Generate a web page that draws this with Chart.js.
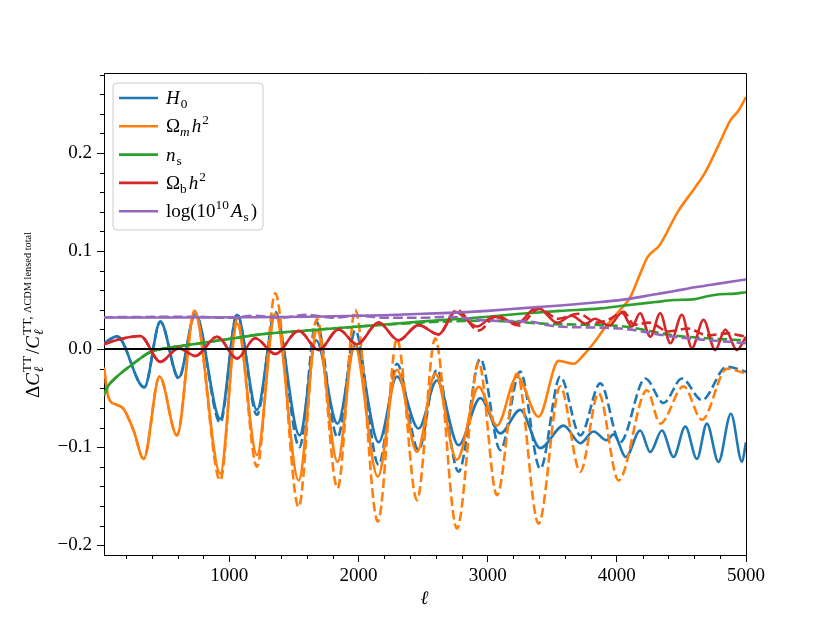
<!DOCTYPE html>
<html>
<head>
<meta charset="utf-8">
<script src="https://cdn.jsdelivr.net/npm/chart.js@4.4.1/dist/chart.umd.min.js"></script>
<style>
html,body{margin:0;padding:0;background:#fff;}
#wrap{width:830px;height:623px;}
</style>
</head>
<body>
<div id="wrap"><canvas id="c" width="830" height="623"></canvas></div>
<script>
// ---------------- data ----------------
const xMin = 30, xMax = 5000;
const yMin = -0.21, yMax = 0.2816;
const xTicks = [1000, 2000, 3000, 4000, 5000];
const yTicks = [-0.2, -0.1, 0.0, 0.1, 0.2];
const xMinorTicks = [200,400,600,800,1200,1400,1600,1800,2200,2400,2600,2800,3200,3400,3600,3800,4200,4400,4600,4800];
const yMinorTicks = [-0.18,-0.16,-0.14,-0.12,-0.08,-0.06,-0.04,-0.02,0.02,0.04,0.06,0.08,0.12,0.14,0.16,0.18,0.22,0.24,0.26,0.28];

const h0Solid = [[30,0.006],[131,0.013],[342,-0.039],[466,0.028],[608,-0.029],[737,0.036],[930,-0.071],[1060,0.035],[1214,-0.062],[1356,0.036],[1544,-0.088],[1673,0.009],[1838,-0.076],[1975,0.004],[2156,-0.095],[2298,-0.028],[2465,-0.081],[2607,-0.032],[2775,-0.098],[2943,-0.050],[3098,-0.086],[3252,-0.062],[3407,-0.101],[3588,-0.078],[3717,-0.096],[3820,-0.084],[3920,-0.093],[3975,-0.087],[4070,-0.110],[4181,-0.083],[4259,-0.105],[4349,-0.083],[4439,-0.110],[4530,-0.079],[4620,-0.112],[4697,-0.076],[4787,-0.115],[4883,-0.066],[4969,-0.115],[5000,-0.095]];
const h0Dashed = [[30,0.006],[131,0.013],[342,-0.039],[466,0.028],[608,-0.030],[737,0.036],[930,-0.075],[1060,0.036],[1214,-0.067],[1356,0.038],[1544,-0.100],[1673,0.028],[1838,-0.090],[1975,0.019],[2156,-0.118],[2298,-0.015],[2465,-0.103],[2607,-0.021],[2775,-0.125],[2943,-0.010],[3098,-0.103],[3252,-0.023],[3407,-0.122],[3562,-0.028],[3717,-0.088],[3872,-0.035],[4026,-0.095],[4220,-0.030],[4362,-0.055],[4504,-0.030],[4659,-0.052],[4852,-0.018],[5000,-0.023]];
const omSolid = [[30,-0.019],[66,-0.050],[131,-0.057],[182,-0.061],[259,-0.083],[337,-0.112],[460,-0.028],[595,-0.088],[731,0.038],[930,-0.127],[1060,0.026],[1214,-0.108],[1356,0.036],[1537,-0.134],[1679,0.019],[1838,-0.115],[1968,0.005],[2150,-0.130],[2298,-0.021],[2453,-0.105],[2594,-0.025],[2762,-0.113],[2930,-0.0385],[3072,-0.078],[3227,-0.028],[3394,-0.069],[3549,-0.012],[3665,-0.015],[3743,-0.006],[3820,0.006],[3923,0.0245],[4026,0.040],[4100,0.052],[4181,0.077],[4239,0.094],[4331,0.106],[4474,0.1405],[4605,0.1646],[4683,0.180],[4786,0.2075],[4878,0.233],[4944,0.2436],[5000,0.257]];
const omDashed = [[30,-0.019],[66,-0.050],[131,-0.057],[182,-0.061],[259,-0.083],[337,-0.112],[460,-0.028],[595,-0.088],[731,0.039],[930,-0.134],[1060,0.030],[1214,-0.120],[1356,0.057],[1537,-0.161],[1679,0.031],[1838,-0.142],[1975,0.040],[2150,-0.176],[2298,0.010],[2453,-0.154],[2594,0.011],[2762,-0.183],[2930,-0.013],[3072,-0.149],[3227,-0.025],[3394,-0.178],[3562,-0.038],[3717,-0.125],[3859,-0.045],[4013,-0.134],[4233,-0.042],[4336,-0.076],[4517,-0.038],[4659,-0.072],[4852,-0.020],[5000,-0.025]];
const nsSolid = [[30,-0.047],[60,-0.038],[131,-0.028],[259,-0.0146],[389,-0.003],[518,0.001],[776,0.006],[1034,0.011],[1240,0.015],[1600,0.019],[2000,0.023],[2478,0.028],[2800,0.031],[3000,0.033],[3252,0.036],[3562,0.039],[3872,0.0415],[4026,0.044],[4300,0.048],[4439,0.050],[4605,0.051],[4700,0.054],[4800,0.056],[4880,0.0563],[5000,0.058]];
const nsDashed = [[30,-0.047],[60,-0.038],[131,-0.028],[259,-0.0146],[389,-0.003],[518,0.001],[776,0.006],[1034,0.011],[1240,0.015],[1600,0.019],[2000,0.023],[2478,0.027],[2994,0.029],[3508,0.0255],[4026,0.0235],[4439,0.014],[4700,0.011],[5000,0.009]];
const obSolid = [[30,0.005],[150,0.010],[311,0.0133],[466,-0.013],[608,0.001],[737,-0.007],[905,0.0126],[1060,-0.0095],[1201,0.011],[1356,-0.005],[1537,0.0187],[1692,-0.001],[1846,0.020],[1988,0.005],[2156,0.027],[2310,0.009],[2465,0.0245],[2620,0.015],[2749,0.038],[2917,0.023],[3046,0.033],[3227,0.026],[3382,0.043],[3540,0.027],[3650,0.034],[3760,0.026],[3830,0.031],[3940,0.024],[4040,0.037],[4117,0.023],[4180,0.0365],[4259,0.0126],[4336,0.0365],[4414,0.006],[4504,0.035],[4581,0.001],[4671,0.030],[4761,-0.001],[4840,0.020],[4929,-0.001],[5000,0.0126]];
const obDashed = [[30,0.005],[150,0.010],[311,0.0133],[466,-0.013],[608,0.001],[737,-0.007],[905,0.0126],[1060,-0.0095],[1201,0.011],[1356,-0.005],[1537,0.0187],[1692,-0.001],[1846,0.020],[1988,0.005],[2156,0.027],[2310,0.009],[2465,0.0245],[2620,0.015],[2762,0.040],[2930,0.019],[3072,0.034],[3240,0.024],[3395,0.041],[3550,0.031],[3700,0.036],[3850,0.027],[3950,0.031],[4052,0.038],[4135,0.025],[4250,0.027],[4400,0.018],[4550,0.021],[4700,0.014],[4850,0.016],[5000,0.0126]];
const asSolid = [[30,0.0323],[600,0.0323],[1200,0.0325],[1600,0.033],[1800,0.0335],[2000,0.034],[2200,0.0345],[2500,0.036],[2800,0.0375],[3000,0.039],[3252,0.0415],[3562,0.0445],[3872,0.048],[4083,0.051],[4300,0.056],[4439,0.059],[4605,0.063],[4800,0.067],[5000,0.071]];
const asDashed = [[30,0.0325],[700,0.033],[1000,0.032],[1200,0.034],[1400,0.032],[1600,0.035],[1800,0.032],[2000,0.034],[2200,0.032],[2500,0.032],[2700,0.033],[3000,0.029],[3330,0.028],[3508,0.0235],[4026,0.021],[4439,0.0126],[5000,0.006]];
const zeroLine = [[xMin,0],[xMax,0]];

const seriesColors = ['#1f77b4','#ff7f0e','#2ca02c','#d62728','#9467bd'];
const seriesNames = ['H0','Omega_m h^2','n_s','Omega_b h^2','log(10^10 A_s)'];
const solidSeries = [h0Solid, omSolid, nsSolid, obSolid, asSolid];
const dashedSeries = [h0Dashed, omDashed, nsDashed, obDashed, asDashed];

// rich-text legend labels (math rendering pieces)
const legendLabels = [
  [{t:'H',it:1},{sub:[{t:'0'}]}],
  [{t:'\u03A9'},{sub:[{t:'m',it:1}]},{t:'h',it:1},{sup:[{t:'2'}]}],
  [{t:'n',it:1},{sub:[{t:'s'}]}],
  [{t:'\u03A9'},{sub:[{t:'b'}]},{t:'h',it:1},{sup:[{t:'2'}]}],
  [{t:'log(10'},{sup:[{t:'10'}]},{t:'A',it:1},{sub:[{t:'s'}]},{t:')'}]
];
const yLabel = [{t:'\u0394'},{t:'C',it:1},{sub:[{t:'\u2113',it:1}],sup:[{t:'TT'}]},{t:'/'},{t:'C',it:1},{sub:[{t:'\u2113',it:1}],sup:[{t:'TT, '},{t:'\u039BCDM lensed total',s:0.78}]}];
const xLabel = [{t:'\u2113',it:1}];

// ---------------- rendering ----------------
const FAM = "'Liberation Serif', 'DejaVu Serif', serif";
const FS = 19;
function setFont(ctx, size, it){ ctx.font = (it?'italic ':'') + size + 'px ' + FAM; }
function runW(ctx, run, size){ let w=0; for(const p of run){ setFont(ctx,size*(p.s||1),p.it); w+=ctx.measureText(p.t).width; } return w; }
function drawRun(ctx, run, x, y, size){ for(const p of run){ setFont(ctx,size*(p.s||1),p.it); ctx.fillText(p.t,x,y); x+=ctx.measureText(p.t).width; } return x; }
function richWidth(ctx, items, size){
  let w=0; const ss=size*0.7;
  for(const it of items){
    if(it.t!==undefined){ setFont(ctx,size,it.it); w+=ctx.measureText(it.t).width + (it.it?1:0); }
    else { w+=Math.max(it.sub?runW(ctx,it.sub,ss):0, it.sup?runW(ctx,it.sup,ss):0)+2; }
  }
  return w;
}
function drawRich(ctx, items, x, y, size){
  const ss=size*0.7;
  ctx.textBaseline='alphabetic'; ctx.textAlign='left';
  for(const it of items){
    if(it.t!==undefined){ setFont(ctx,size,it.it); ctx.fillText(it.t,x,y); x+=ctx.measureText(it.t).width + (it.it?1:0); }
    else {
      let w1=0,w2=0;
      if(it.sub){ w1=drawRun(ctx,it.sub,x,y+size*0.22,ss)-x; }
      if(it.sup){ w2=drawRun(ctx,it.sup,x,y-size*0.42,ss)-x; }
      x+=Math.max(w1,w2)+2;
    }
  }
  return x;
}

const decor = {
  id:'decor',
  afterDatasetsDraw(chart){
    const ctx=chart.ctx, a=chart.chartArea, sx=chart.scales.x, sy=chart.scales.y;
    ctx.save();
    ctx.strokeStyle='#000'; ctx.lineWidth=1;
    ctx.beginPath();
    ctx.moveTo(a.left, a.top+0.5); ctx.lineTo(a.right+0.5, a.top+0.5);
    ctx.lineTo(a.right+0.5, a.bottom);
    ctx.stroke();
    ctx.beginPath();
    for(const v of xMinorTicks){ const px=Math.round(sx.getPixelForValue(v))+0.5; ctx.moveTo(px,a.bottom); ctx.lineTo(px,a.bottom+4); }
    for(const v of yMinorTicks){ const py=Math.round(sy.getPixelForValue(v))+0.5; ctx.moveTo(a.left,py); ctx.lineTo(a.left-4,py); }
    ctx.stroke();
    ctx.restore();
  },
  afterDraw(chart){
    const ctx=chart.ctx, a=chart.chartArea;
    ctx.save();
    const bx=a.left+9, by=a.top+10, bw=150, bh=147, r=4;
    ctx.beginPath();
    ctx.moveTo(bx+r,by); ctx.lineTo(bx+bw-r,by); ctx.quadraticCurveTo(bx+bw,by,bx+bw,by+r);
    ctx.lineTo(bx+bw,by+bh-r); ctx.quadraticCurveTo(bx+bw,by+bh,bx+bw-r,by+bh);
    ctx.lineTo(bx+r,by+bh); ctx.quadraticCurveTo(bx,by+bh,bx,by+bh-r);
    ctx.lineTo(bx,by+r); ctx.quadraticCurveTo(bx,by,bx+r,by); ctx.closePath();
    ctx.fillStyle='rgba(255,255,255,0.8)'; ctx.fill();
    ctx.strokeStyle='#cccccc'; ctx.lineWidth=1; ctx.stroke();
    for(let i=0;i<legendLabels.length;i++){
      const ly=by+15+i*28.3;
      ctx.strokeStyle=seriesColors[i]; ctx.lineWidth=2.6; ctx.setLineDash([]);
      ctx.beginPath(); ctx.moveTo(bx+6,ly); ctx.lineTo(bx+45,ly); ctx.stroke();
      ctx.fillStyle='#000';
      drawRich(ctx, legendLabels[i], bx+53, ly+6, FS);
    }
    ctx.save();
    ctx.translate(33, (a.top+a.bottom)/2);
    ctx.rotate(-Math.PI/2);
    const w=richWidth(ctx,yLabel,FS);
    drawRich(ctx,yLabel,-w/2,6,FS);
    ctx.restore();
    const wx=richWidth(ctx,xLabel,FS);
    drawRich(ctx,xLabel,(a.left+a.right)/2-wx/2,604,FS);
    ctx.restore();
  }
};

const datasets = [];
datasets.push({label:'zero', data:zeroLine.map(p=>({x:p[0],y:p[1]})), borderColor:'#000', borderWidth:2, pointRadius:0, order:0});
for(let i=0;i<5;i++){
  datasets.push({label:seriesNames[i], data:solidSeries[i].map(p=>({x:p[0],y:p[1]})), borderColor:seriesColors[i], borderWidth:2.6, pointRadius:0, cubicInterpolationMode:'monotone', order:20-2*i});
  datasets.push({label:seriesNames[i]+' (dashed)', data:dashedSeries[i].map(p=>({x:p[0],y:p[1]})), borderColor:seriesColors[i], borderWidth:2.6, borderDash:[9.6,4.2], pointRadius:0, cubicInterpolationMode:'monotone', order:19-2*i});
}

new Chart(document.getElementById('c'), {
  type:'line',
  data:{datasets},
  options:{
    responsive:false, animation:false, devicePixelRatio:1,
    layout:{padding:{top:73,right:84,bottom:0,left:0}},
    plugins:{legend:{display:false}, tooltip:{enabled:false}},
    elements:{line:{fill:false}},
    scales:{
      x:{type:'linear', min:xMin, max:xMax,
         afterBuildTicks:s=>{ s.ticks=xTicks.map(v=>({value:v})); },
         afterFit:s=>{ s.height=68; },
         ticks:{color:'#000', font:{family:FAM,size:FS}, padding:3, maxRotation:0, callback:v=>String(v)},
         grid:{drawOnChartArea:false, drawTicks:true, tickLength:7, tickColor:'#000', tickWidth:1},
         border:{display:true,color:'#000',width:1}},
      y:{type:'linear', min:yMin, max:yMax,
         afterBuildTicks:s=>{ s.ticks=yTicks.map(v=>({value:v})); },
         afterFit:s=>{ s.width=104; },
         ticks:{color:'#000', font:{family:FAM,size:FS}, padding:5, callback:v=>(v<-1e-9?'\u2212':'')+Math.abs(v).toFixed(1)},
         grid:{drawOnChartArea:false, drawTicks:true, tickLength:7, tickColor:'#000', tickWidth:1},
         border:{display:true,color:'#000',width:1}}
    }
  },
  plugins:[decor]
});
</script>
</body>
</html>
